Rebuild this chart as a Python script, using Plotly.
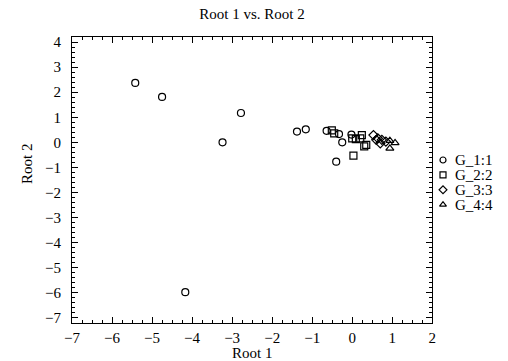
import plotly.graph_objects as go

g1_x = [-5.42, -4.75, -4.17, -3.24, -2.78, -1.38, -1.16, -0.64, -0.33, -0.25, -0.40, -0.02]
g1_y = [2.37, 1.81, -5.97, 0.00, 1.17, 0.43, 0.52, 0.46, 0.33, 0.00, -0.77, 0.31]
g2_x = [-0.51, -0.45, 0.00, 0.09, 0.03, 0.24, 0.20, 0.35, 0.30]
g2_y = [0.48, 0.36, 0.16, 0.13, -0.53, 0.29, 0.16, -0.10, -0.16]
g3_x = [0.53, 0.64, 0.74, 0.84, 0.70, 0.60]
g3_y = [0.29, 0.16, 0.10, 0.03, -0.04, 0.10]
g4_x = [0.94, 1.07, 0.94]
g4_y = [0.07, -0.02, -0.24]
names = ["G_1:1", "G_2:2", "G_3:3", "G_4:4"]
symbols = ["circle-open", "square-open", "diamond-open", "triangle-up-open"]

FONT = "Liberation Serif, Times New Roman, serif"
BLACK = "black"
W, H = 508, 361
L, R, T, B = 72, 0, 37, 38
plot_w = W - L - R
main_right_px = 432.3
leg_left_px = 437

fig = go.Figure()
for xs, ys, nm, sym in zip([g1_x, g2_x, g3_x, g4_x], [g1_y, g2_y, g3_y, g4_y], names, symbols):
    fig.add_trace(go.Scatter(x=xs, y=ys, mode="markers", name=nm, showlegend=False,
                             xaxis="x", yaxis="y",
                             marker=dict(symbol=sym, size=7, color=BLACK,
                                         line=dict(width=1.2, color=BLACK))))

# custom legend drawn on an invisible helper axis (one row per series index)
for i, (nm, sym) in enumerate(zip(names, symbols)):
    fig.add_trace(go.Scatter(x=[0], y=[-i], mode="markers", showlegend=False,
                             xaxis="x2", yaxis="y2", hoverinfo="skip",
                             marker=dict(symbol=sym, size=6, color=BLACK,
                                         line=dict(width=1.2, color=BLACK))))
    fig.add_annotation(x=11 / 71, y=-i, xref="x2", yref="y2", text=nm, showarrow=False,
                       xanchor="left", yanchor="middle", borderpad=0,
                       font=dict(family=FONT, size=15, color=BLACK))

axis_common = dict(showgrid=False, zeroline=False, showline=True, linecolor=BLACK,
                   linewidth=1, mirror="allticks", ticks="inside", tickcolor=BLACK,
                   ticklen=6, tickwidth=1, automargin=False,
                   tickfont=dict(family=FONT, size=15, color=BLACK))
row_px = 14.9
first_row_px = 160
fig.update_layout(
    width=W, height=H,
    margin=dict(l=L, r=R, t=T, b=B, autoexpand=False),
    paper_bgcolor="white", plot_bgcolor="white",
    showlegend=False,
    xaxis=dict(domain=[0, (main_right_px - L) / plot_w], range=[-7, 2], dtick=1, tick0=0,
               ticklabelstandoff=1,
               minor=dict(dtick=0.25, ticks="inside", ticklen=3, tickcolor=BLACK),
               **axis_common),
    yaxis=dict(range=[-7.2, 4.2], dtick=1, tick0=0, ticklabelstandoff=7,
               minor=dict(dtick=0.2, ticks="inside", ticklen=3, tickcolor=BLACK),
               **axis_common),
    xaxis2=dict(domain=[(leg_left_px - L) / plot_w, 1], anchor="y2", visible=False,
                range=[-6 / 71, 65 / 71], fixedrange=True),
    yaxis2=dict(domain=[0, 1], anchor="x2", visible=False, fixedrange=True,
                range=[-(H - B - first_row_px) / row_px, (first_row_px - T) / row_px]),
)
fig.update_layout(title=dict(text="Root 1 vs. Root 2", x=252 / W, xanchor="center",
                             y=1 - 14 / H, yanchor="middle", xref="container", yref="container",
                             font=dict(family=FONT, size=15, color=BLACK)))
fig.add_annotation(text="Root 1", xref="x domain", x=0.5, yref="paper",
                   y=-(353 - (H - B)) / (H - T - B), showarrow=False,
                   xanchor="center", yanchor="middle", borderpad=0,
                   font=dict(family=FONT, size=15, color=BLACK))
fig.add_annotation(text="Root 2", xref="paper", x=(27 - L) / plot_w, yref="paper",
                   y=((H - B) - 164) / (H - T - B), showarrow=False, textangle=-90,
                   xanchor="center", yanchor="middle",
                   font=dict(family=FONT, size=15, color=BLACK))
fig.write_html("out.html")
